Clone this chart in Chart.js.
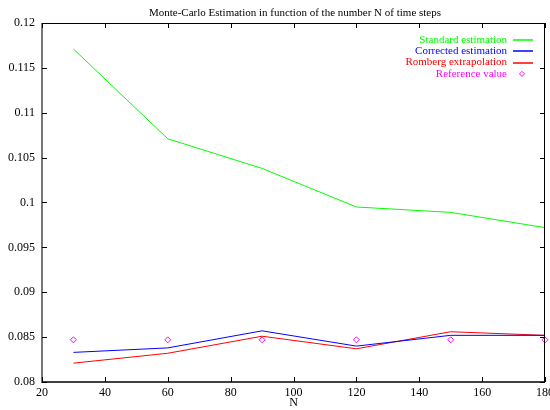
<!DOCTYPE html>
<html>
<head>
<meta charset="utf-8">
<script src="https://cdn.jsdelivr.net/npm/chart.js@4.4.0/dist/chart.umd.min.js"></script>
<style>
  html, body { margin: 0; padding: 0; background: #fff; }
  #wrap { width: 550px; height: 410px; }
</style>
</head>
<body>
<div id="wrap"><canvas id="myChart" width="550" height="410"></canvas></div>
<script>
const nValues = [30, 60, 90, 120, 150, 180];
const standardEst = [0.1171, 0.1071, 0.1038, 0.0995, 0.0989, 0.0972];
const correctedEst = [0.0833, 0.0838, 0.0857, 0.0840, 0.0852, 0.0852];
const rombergExt = [0.0821, 0.0832, 0.0851, 0.0837, 0.0856, 0.0852];
const referenceVal = [0.0847, 0.0847, 0.0847, 0.0847, 0.0847, 0.0847];

const xTicks = [20, 40, 60, 80, 100, 120, 140, 160, 180];
const yTicks = [0.08, 0.085, 0.09, 0.095, 0.1, 0.105, 0.11, 0.115, 0.12];

const serif = "'Liberation Serif', 'DejaVu Serif', serif";

function pts(ys) {
  return nValues.map((n, i) => ({ x: n, y: ys[i] }));
}

// gnuplot-ish frame, inward ticks, title and legend
const gnuplotLook = {
  id: 'gnuplotLook',
  afterDraw(chart) {
    const ctx = chart.ctx;
    const a = chart.chartArea;
    const xs = chart.scales.x, ys = chart.scales.y;
    ctx.save();

    // frame
    ctx.strokeStyle = '#000';
    ctx.lineWidth = 1;
    ctx.beginPath();
    ctx.moveTo(a.left, a.top + 0.5); ctx.lineTo(a.right, a.top + 0.5);
    ctx.moveTo(a.right - 0.5, a.top); ctx.lineTo(a.right - 0.5, a.bottom);
    ctx.stroke();
    ctx.lineWidth = 1.5;
    ctx.beginPath();
    ctx.moveTo(a.left, a.bottom); ctx.lineTo(a.right, a.bottom);
    ctx.stroke();
    ctx.strokeStyle = '#777';
    ctx.lineWidth = 2;
    ctx.beginPath();
    ctx.moveTo(a.left, a.top); ctx.lineTo(a.left, a.bottom + 1);
    ctx.stroke();

    // inward ticks
    ctx.strokeStyle = '#000';
    ctx.lineWidth = 1;
    ctx.beginPath();
    xTicks.forEach(v => {
      const px = Math.round(xs.getPixelForValue(v)) + 0.5;
      ctx.moveTo(px, a.bottom); ctx.lineTo(px, a.bottom - 5);
      ctx.moveTo(px, a.top); ctx.lineTo(px, a.top + 5);
    });
    yTicks.forEach(v => {
      const py = Math.round(ys.getPixelForValue(v)) + 0.5;
      ctx.moveTo(a.left, py); ctx.lineTo(a.left + 5, py);
      ctx.moveTo(a.right, py); ctx.lineTo(a.right - 5, py);
    });
    ctx.stroke();

    // title
    ctx.fillStyle = '#000';
    ctx.font = '11px ' + serif;
    ctx.textAlign = 'center';
    ctx.textBaseline = 'middle';
    ctx.fillText('Monte-Carlo Estimation in function of the number N of time steps', 295, 13);

    // legend
    ctx.textAlign = 'right';
    chart.data.datasets.forEach((ds, i) => {
      const y = 40 + i * 11.3;
      ctx.fillStyle = ds.borderColor;
      ctx.fillText(ds.label, 507, y);
      ctx.strokeStyle = ds.borderColor;
      if (ds.showLine === false) {
        const cx = 522, r = 2.5;
        ctx.lineWidth = 1;
        ctx.beginPath();
        ctx.moveTo(cx, y - r); ctx.lineTo(cx + r, y); ctx.lineTo(cx, y + r); ctx.lineTo(cx - r, y);
        ctx.closePath();
        ctx.stroke();
      } else {
        ctx.lineWidth = 1.5;
        ctx.beginPath();
        ctx.moveTo(513, Math.round(y)); ctx.lineTo(533, Math.round(y));
        ctx.stroke();
      }
    });
    ctx.restore();
  }
};

new Chart('myChart', {
  type: 'scatter',
  data: {
    datasets: [{
      label: 'Standard estimation',
      data: pts(standardEst),
      borderColor: '#00ff00',
      backgroundColor: '#00ff00',
      showLine: true,
      borderWidth: 1,
      pointRadius: 0
    }, {
      label: 'Corrected estimation',
      data: pts(correctedEst),
      borderColor: '#0000ff',
      backgroundColor: '#0000ff',
      showLine: true,
      borderWidth: 1,
      pointRadius: 0
    }, {
      label: 'Romberg extrapolation',
      data: pts(rombergExt),
      borderColor: '#ff0000',
      backgroundColor: '#ff0000',
      showLine: true,
      borderWidth: 1,
      pointRadius: 0
    }, {
      label: 'Reference value',
      data: pts(referenceVal),
      borderColor: '#ff00ff',
      backgroundColor: 'rgba(0,0,0,0)',
      showLine: false,
      pointStyle: 'rectRot',
      pointRadius: 3,
      pointBorderWidth: 1
    }]
  },
  options: {
    responsive: false,
    animation: false,
    devicePixelRatio: 1,
    clip: false,
    layout: { padding: { top: 23, right: 3, left: 0, bottom: 0 } },
    plugins: {
      legend: { display: false },
      tooltip: { enabled: false },
      title: { display: false }
    },
    scales: {
      x: {
        type: 'linear',
        min: 20, max: 180,
        afterBuildTicks: s => { s.ticks = xTicks.map(v => ({ value: v })); },
        afterFit: s => { s.height = 28; s.paddingLeft = 0; s.paddingRight = 0; },
        border: { display: false },
        grid: { drawOnChartArea: false, drawTicks: false },
        ticks: { color: '#000', font: { family: serif, size: 12 }, padding: 4, maxRotation: 0 },
        title: { display: true, text: 'N', color: '#000', font: { family: serif, size: 12 }, padding: { top: 0, bottom: 0 } }
      },
      y: {
        min: 0.08, max: 0.12,
        afterBuildTicks: s => { s.ticks = yTicks.map(v => ({ value: v })); },
        afterFit: s => { s.width = 42; s.paddingTop = 0; s.paddingBottom = 0; },
        border: { display: false },
        grid: { drawOnChartArea: false, drawTicks: false },
        ticks: {
          color: '#000', font: { family: serif, size: 12 }, padding: 7,
          callback: v => String(Number(v.toFixed(3)))
        }
      }
    }
  },
  plugins: [gnuplotLook]
});
</script>
</body>
</html>
